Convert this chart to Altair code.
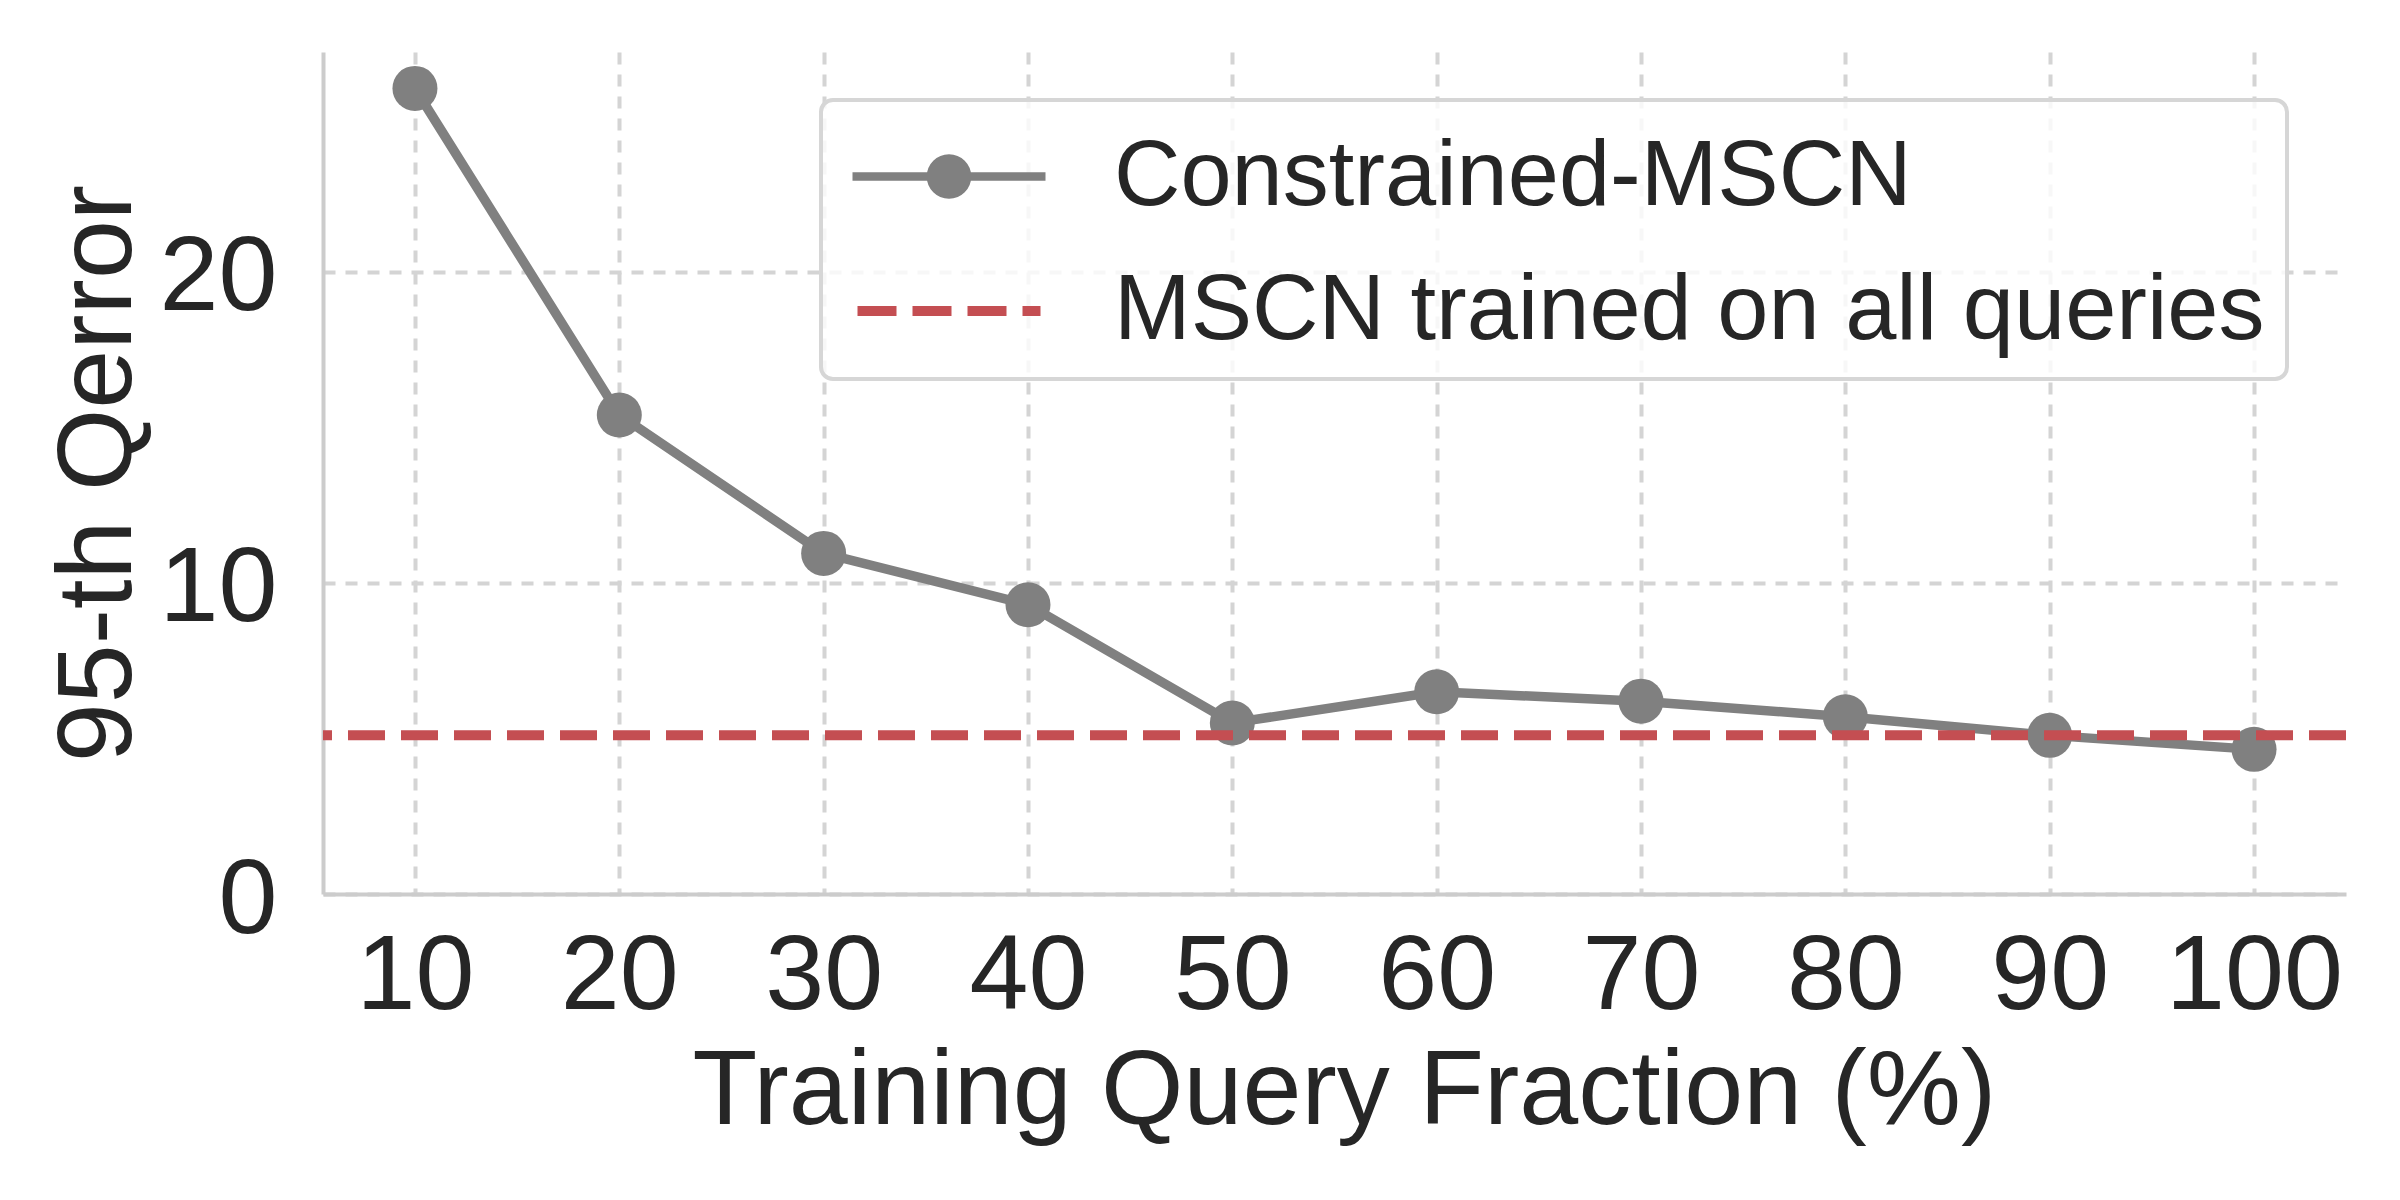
import altair as alt
import pandas as pd

# ---- data ----
fractions = [10, 20, 30, 40, 50, 60, 70, 80, 90, 100]
constrained_qerror = [25.9, 15.4, 10.95, 9.3, 5.5, 6.5, 6.2, 5.7, 5.1, 4.65]
baseline_qerror = 5.1
series_names = ["Constrained-MSCN", "MSCN trained on all queries"]
series_colors = ["#808080", "#C44E52"]
x_ticks = [10, 20, 30, 40, 50, 60, 70, 80, 90, 100]
y_ticks = [0, 10, 20]

FONT = "Liberation Sans, Arial, sans-serif"
TXT = "#262626"

line_df = pd.DataFrame({
    "fraction": fractions,
    "qerror": constrained_qerror,
    "series": [series_names[0]] * len(fractions),
})
rule_df = pd.DataFrame({"qerror": [baseline_qerror], "series": [series_names[1]]})

x_enc = alt.X(
    "fraction:Q",
    scale=alt.Scale(domain=[5.5, 104.5], nice=False, zero=False),
    axis=alt.Axis(
        title="Training Query Fraction (%)",
        values=x_ticks,
        format="d",
        labelFontSize=106,
        titleFontSize=106,
        labelBaseline="alphabetic",
        labelPadding=114,
        titleBaseline="alphabetic",
        titleY=229,
        titleX=1021,
        titleAlign="center",
    ),
)
y_scale = alt.Scale(domain=[0, 27.07], nice=False)
y_axis = alt.Axis(
    title="95-th Qerror",
    values=y_ticks,
    format="d",
    labelFontSize=106,
    titleFontSize=106,
    labelBaseline="alphabetic",
    labelOffset=38,
    labelPadding=46,
    titleBaseline="alphabetic",
    titleAngle=270,
    titleAlign="center",
    titleX=-193,
    titleY=421,
)

# legend glyphs (unit = sqrt(symbolSize)/2 px)
path_gray = "M-1.93,0L1.93,0M0.36,0A0.36,0.36,0,1,1,-0.36,0A0.36,0.36,0,1,1,0.36,0Z"
path_red = "M-1.83,0L-1.05,0M-0.73,0L0.05,0M0.37,0L1.15,0M1.47,0L1.83,0"

legend = alt.Legend(
    title=None,
    orient="none",
    legendX=498,
    legendY=48,
    labelFontSize=92,
    labelFont=FONT,
    labelColor=TXT,
    labelLimit=3000,
    labelOffset=110,
    symbolOffset=51,
    symbolSize=10000,
    symbolStrokeWidth=8,
    symbolOpacity=1,
    padding=22,
    rowPadding=33,
    cornerRadius=12,
    strokeColor="#d6d6d6",
    fillColor="rgba(255,255,255,0.8)",
)

line = alt.Chart(line_df).mark_line(
    strokeWidth=9.5, strokeCap="round", color=series_colors[0]
).encode(
    x=x_enc,
    y=alt.Y("qerror:Q", scale=y_scale, axis=y_axis),
)
points = alt.Chart(line_df).mark_point(
    filled=True, size=2025, color=series_colors[0], opacity=1
).encode(
    x=alt.X("fraction:Q"),
    y=alt.Y("qerror:Q"),
)
rule = alt.Chart(rule_df).mark_rule(
    strokeWidth=10, strokeDash=[37, 16], color=series_colors[1]
).encode(
    y=alt.Y("qerror:Q"),
)
# invisible layer that only carries the legend
legend_layer = alt.Chart(line_df).mark_point(size=10000, opacity=0).encode(
    x=alt.X("fraction:Q"),
    y=alt.Y("qerror:Q"),
    shape=alt.Shape("series:N", scale=alt.Scale(domain=series_names, range=[path_gray, path_red]), legend=legend),
    fill=alt.Fill("series:N", scale=alt.Scale(domain=series_names, range=[series_colors[0], "transparent"]), legend=legend),
    stroke=alt.Stroke("series:N", scale=alt.Scale(domain=series_names, range=series_colors), legend=legend),
    strokeWidth=alt.StrokeWidth("series:N", scale=alt.Scale(domain=series_names, range=[8.5, 10]), legend=legend),
)

chart = alt.layer(line, points, rule, legend_layer).properties(
    width=2023,
    height=842,
    autosize=alt.AutoSizeParams(type="none"),
    padding={"left": 315, "top": 44, "right": 30, "bottom": 290},
    background="white",
).configure_view(stroke=None).configure_axis(
    labelFont=FONT,
    titleFont=FONT,
    labelColor=TXT,
    titleColor=TXT,
    titleFontWeight="normal",
    domainColor="#cccccc",
    domainWidth=4,
    gridColor="#d4d4d4",
    gridWidth=4,
    gridDash=[12, 10],
    ticks=False,
    tickSize=0,
).configure_axisX(
    grid=True,
).configure_axisY(
    grid=True,
).configure_legend(
    strokeWidth=4,
)

chart.save("out.html", embed_options={"renderer": "svg", "actions": False})
